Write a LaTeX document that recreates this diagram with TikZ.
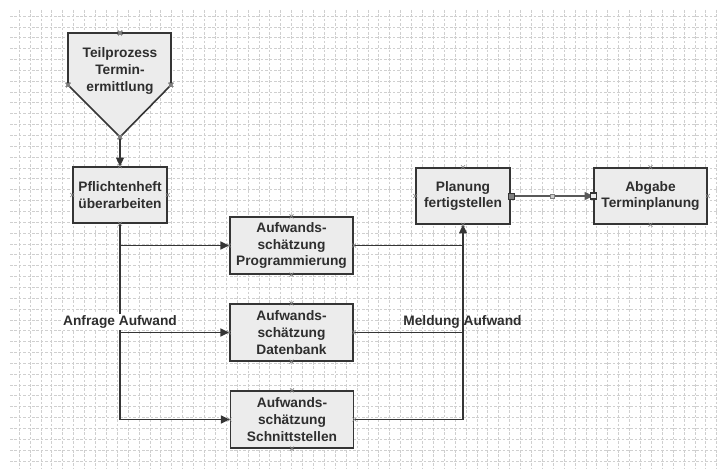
\documentclass[tikz,border=0pt]{standalone}
\usepackage{fontspec}
\setmainfont{Liberation Sans}
\usetikzlibrary{arrows.meta,calc}

\definecolor{kastenfill}{HTML}{ECECEC}
\definecolor{kastenrand}{HTML}{353535}
\definecolor{schrift}{HTML}{2E2E2E}
\definecolor{gitterfarbe}{HTML}{CFCFCF}

\tikzset{
	kasten/.style={draw=kastenrand, fill=kastenfill, line width=1.2pt, align=center, inner sep=0pt,
		text=schrift, font=\bfseries\fontsize{10.3}{12.6}\selectfont},
	beschriftung/.style={text=schrift, font=\bfseries\fontsize{10.3}{12.6}\selectfont, inner sep=1pt},
	linie/.style={draw=kastenrand, line width=1.1pt},
	pfeil/.style={linie, -{Triangle[length=6.5pt,width=6pt]}},
	gitter/.style={gitterfarbe, line width=0.45pt, dash pattern=on 2pt off 1.3pt},
	kreuzstil/.style={gray, line width=0.45pt}
}
\newcommand{\kpunkt}[1]{\draw[kreuzstil, shift={(#1)}] (-2,-2) -- (2,2) (-2,2) -- (2,-2);}

\begin{document}
\begin{tikzpicture}[x=0.75pt, y=-0.75pt]
	\useasboundingbox (0,0) rectangle (717,470);
	% Raster
	\foreach \i in {0,...,64}
		\draw[gitter] (19+\i*10.9,10) -- (19+\i*10.9,468);
	\foreach \j in {0,...,41}
		\draw[gitter] (10,16+\j*10.85) -- (717,16+\j*10.85);

	% Teilprozess
	\draw[kasten] (68,33) -- (171,33) -- (171,85) -- (120,137) -- (68,85) -- cycle;
	\node[beschriftung, align=center, inner sep=0pt] (teil) at (120,71) {Teilprozess\\Termin-\\ermittlung};
	\coordinate (teilspitze) at (120,137);

	\node[kasten, minimum width=70.5pt, minimum height=42pt] (pflicht) at (120,195) {Pflichtenheft\\überarbeiten};
	\node[kasten, minimum width=92.5pt, minimum height=42.5pt] (prog) at (291.5,245.5) {Aufwands-\\schätzung\\Programmierung};
	\node[kasten, minimum width=92.5pt, minimum height=42.5pt] (daten) at (291.5,332.5) {Aufwands-\\schätzung\\Datenbank};
	\node[kasten, minimum width=92.5pt, minimum height=42.5pt] (schnitt) at (292,419.5) {Aufwands-\\schätzung\\Schnittstellen};
	\node[kasten, minimum width=70.5pt, minimum height=42pt] (planung) at (463,196) {Planung\\fertigstellen};
	\node[kasten, minimum width=84.75pt, minimum height=42pt] (abgabe) at (650.5,196) {Abgabe\\Terminplanung};

	\draw[pfeil] (teilspitze) -- (pflicht.north);
	\draw[pfeil] (pflicht.south) |- (schnitt.west);
	\draw[pfeil] (pflicht.south |- prog.west) -- (prog.west);
	\draw[pfeil] (pflicht.south |- daten.west) -- (daten.west);
	\node[beschriftung, fill=white] (anfrage) at (120,322) {Anfrage Aufwand};

	\draw[linie] (prog.east) -- (prog.east -| planung.south);
	\draw[linie] (daten.east) -- (daten.east -| planung.south);
	\draw[pfeil] (schnitt.east) -| (planung.south);
	\node[beschriftung] (meldung) at (462.5,322) {Meldung Aufwand};

	\draw[pfeil, draw=gray!70!black] (planung.east) -- (abgabe.west);

	% Verbindungspunkte
	\foreach \k in {pflicht, prog, daten, schnitt, planung, abgabe}
		\foreach \a in {north, south, east, west}
			\kpunkt{\k.\a}
	\kpunkt{120,33}
	\kpunkt{68,85}
	\kpunkt{171,85}
	\kpunkt{teilspitze}
	\node[draw=kastenrand, fill=gray, minimum size=4.5pt, inner sep=0pt] at (planung.east) {};
	\node[draw=gray, fill=gray!40, minimum size=3pt, inner sep=0pt] at ($(planung.east)!0.5!(abgabe.west)$) {};
	\node[draw=kastenrand, fill=kastenfill, line width=0.8pt, minimum size=4.5pt, inner sep=0pt] at (abgabe.west) {};
\end{tikzpicture}
\end{document}
